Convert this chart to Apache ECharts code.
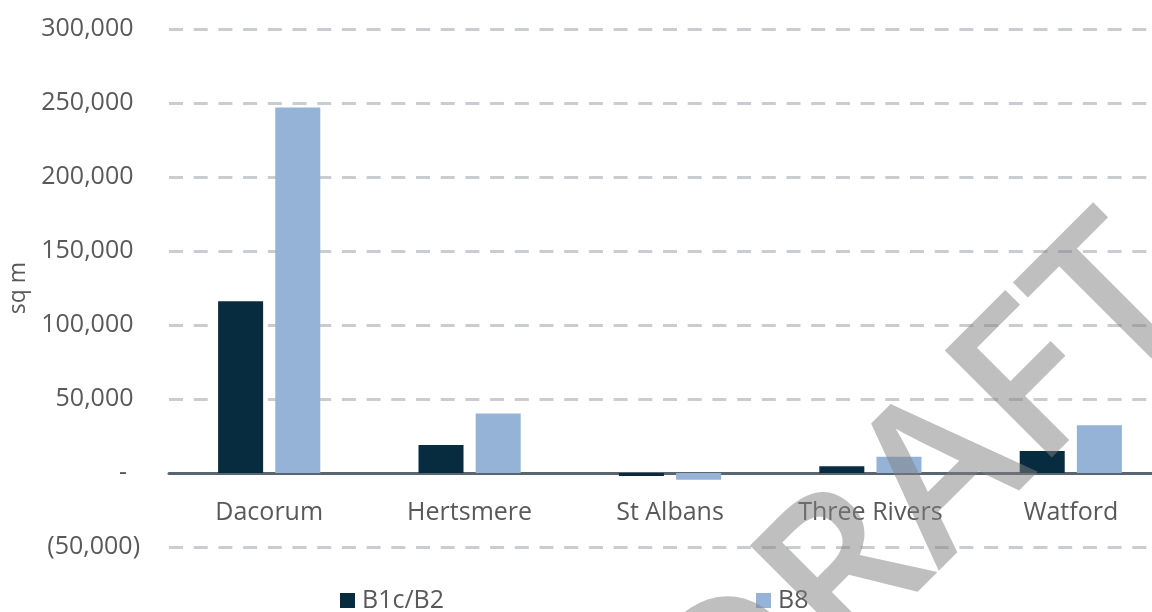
<!DOCTYPE html>
<html>
<head>
<meta charset="utf-8">
<script src="https://cdn.jsdelivr.net/npm/echarts@6/dist/echarts.min.js"></script>
<style>
html,body{margin:0;padding:0;background:#fff;}
#chart{width:1152px;height:612px;}
</style>
</head>
<body>
<div id="chart"></div>
<script>
const categories = ['Dacorum', 'Hertsmere', 'St Albans', 'Three Rivers', 'Watford'];
const seriesNames = ['B1c/B2', 'B8'];
const b1cB2 = [116000, 19000, -2000, 4600, 14800];
const b8 = [247000, 40200, -4600, 11000, 32200];
const yTicks = [-50000, 0, 50000, 100000, 150000, 200000, 250000, 300000];
const watermarkText = 'DRAFT';

const FONT = '"Open Sans", "Noto Sans", sans-serif';
const TEXT = '#595959';

function fmt(v) {
  if (v === 0) return '-  ';
  const s = Math.abs(v).toLocaleString('en-US');
  return v < 0 ? '(' + s + ')' : s + ' ';
}

const chart = echarts.init(document.getElementById('chart'));
chart.setOption({
  animation: false,
  backgroundColor: '#ffffff',
  grid: { left: 169, width: 1002, top: 29, height: 518, containLabel: false, outerBoundsMode: 'none' },
  legend: {
    data: seriesNames,
    left: 340,
    top: 588,
    padding: 0,
    itemWidth: 15,
    itemHeight: 15,
    itemGap: 312,
    icon: 'rect',
    textStyle: { fontFamily: FONT, fontSize: 25, color: TEXT, padding: [0, 0, 0, 2] }
  },
  xAxis: {
    type: 'category',
    data: categories,
    position: 'bottom',
    offset: -74,
    axisTick: { show: false },
    axisLine: { show: true, onZero: false, lineStyle: { color: '#5b6570', width: 3 } },
    axisLabel: { fontFamily: FONT, fontSize: 25, color: TEXT, margin: 27 },
    splitLine: { show: false }
  },
  yAxis: {
    type: 'value',
    min: yTicks[0],
    max: yTicks[yTicks.length - 1],
    interval: 50000,
    name: 'sq m',
    nameLocation: 'middle',
    nameRotate: 90,
    nameGap: 133,
    nameTextStyle: { fontFamily: FONT, fontSize: 23, color: TEXT },
    axisLine: { show: false },
    axisTick: { show: false },
    axisLabel: { fontFamily: FONT, fontSize: 25, color: TEXT, margin: 29, formatter: fmt },
    splitLine: { show: true, lineStyle: { color: '#c9cdd2', width: 3, type: [14, 10.7] } }
  },
  series: [
    {
      name: seriesNames[0], type: 'bar', data: b1cB2,
      itemStyle: { color: '#082c3f' },
      barGap: '27%', barCategoryGap: '49%'
    },
    {
      name: seriesNames[1], type: 'bar', data: b8,
      itemStyle: { color: '#95b3d7' },
      barGap: '27%', barCategoryGap: '49%'
    }
  ],
  graphic: [
    {
      type: 'text',
      z: 100,
      x: 925,
      y: 499,
      rotation: Math.PI / 4,
      silent: true,
      style: {
        text: watermarkText,
        fill: 'rgba(128,128,128,0.5)',
        font: '600 212px ' + FONT,
        textAlign: 'center',
        textVerticalAlign: 'middle'
      }
    }
  ]
});
</script>
</body>
</html>
